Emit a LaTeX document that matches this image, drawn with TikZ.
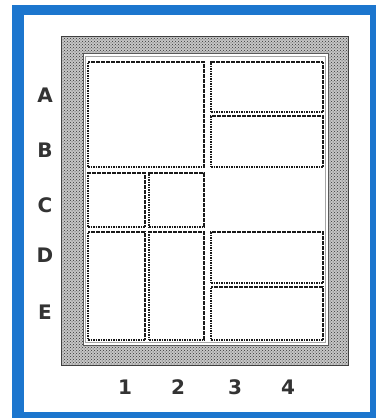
\documentclass[tikz,border=0pt]{standalone}
\usepackage{fontspec}
\setmainfont{DejaVu Sans}
\usetikzlibrary{patterns}
\definecolor{frameblue}{RGB}{28,118,206}
\tikzset{
  panel/.style={draw=black!90, line width=1.9pt, dash pattern=on 1.8pt off 0.7pt, inner sep=0pt, fill=white},
  lab/.style={font=\fontsize{20}{20}\selectfont\bfseries, text=black!80, inner sep=0pt},
}
\begin{document}
\begin{tikzpicture}[x=1pt,y=-1pt]
\useasboundingbox (0,0) rectangle (376,418);
\fill[white] (0,0) rectangle (376,418);
% blue frame
\fill[frameblue] (12,5) rectangle (376,418);
\fill[white] (24,15) rectangle (370,412);
% shaded band
\fill[gray!45] (61,36) rectangle (348,365);
\fill[pattern=crosshatch dots, pattern color=black!80] (61,36) rectangle (348,365);
\fill[white] (83,53) rectangle (328,345);
\draw[black!75, line width=1pt] (61,36) rectangle (348,365);
\draw[black!65, line width=1pt] (83,53) rectangle (328,345);
\draw[black!35, line width=0.6pt] (85.5,56) rectangle (325.5,342.5);
% panels
\node[panel, minimum width=116pt, minimum height=105pt] (ab1) at (146,114.5) {};
\node[panel, minimum width=112pt, minimum height=50pt] (a34) at (267,87) {};
\node[panel, minimum width=112pt, minimum height=51pt] (b34) at (267,141.5) {};
\node[panel, minimum width=57pt, minimum height=54pt] (c1) at (116.5,200) {};
\node[panel, minimum width=55pt, minimum height=54pt] (c2) at (176.5,200) {};
\node[panel, minimum width=57pt, minimum height=108pt] (de1) at (116.5,286) {};
\node[panel, minimum width=55pt, minimum height=108pt] (de2) at (176.5,286) {};
\node[panel, minimum width=112pt, minimum height=51pt] (d34) at (267,257.5) {};
\node[panel, minimum width=112pt, minimum height=53pt] (e34) at (267,313.5) {};
% row labels
\node[lab] (la) at (45,95) {A};
\node[lab] (lb) at (45,150) {B};
\node[lab] (lc) at (45,205) {C};
\node[lab] (ld) at (45,255) {D};
\node[lab] (le) at (45,312) {E};
% column labels
\node[lab] (n1) at (125,387) {1};
\node[lab] (n2) at (178,387) {2};
\node[lab] (n3) at (235,387) {3};
\node[lab] (n4) at (288,387) {4};
\end{tikzpicture}
\end{document}
